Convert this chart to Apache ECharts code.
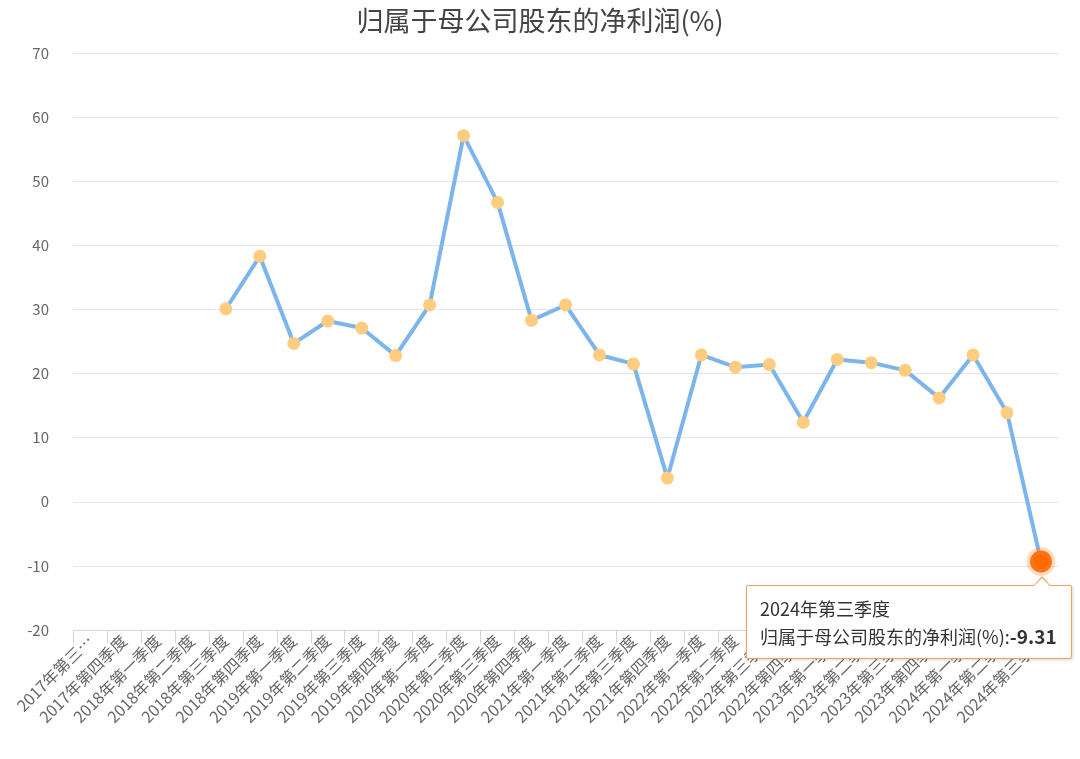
<!DOCTYPE html>
<html>
<head>
<meta charset="utf-8">
<style>
  html, body { margin: 0; padding: 0; background: #fff; }
  #main { width: 1080px; height: 759px; }
  .np-tip::before, .np-tip::after {
    content: ''; position: absolute; width: 0; height: 0;
    border-left: 9px solid transparent; border-right: 9px solid transparent;
    left: 286px;
  }
  .np-tip::before { top: -10px; border-bottom: 10px solid #f5a05a; }
  .np-tip::after { top: -8px; border-bottom: 9px solid #fff; }
</style>
<script src="https://cdn.jsdelivr.net/npm/echarts@6/dist/echarts.min.js"></script>
</head>
<body>
<div id="main"></div>
<script>
// 季度
var quarters = [
  '2017年第三季度', '2017年第四季度',
  '2018年第一季度', '2018年第二季度', '2018年第三季度', '2018年第四季度',
  '2019年第一季度', '2019年第二季度', '2019年第三季度', '2019年第四季度',
  '2020年第一季度', '2020年第二季度', '2020年第三季度', '2020年第四季度',
  '2021年第一季度', '2021年第二季度', '2021年第三季度', '2021年第四季度',
  '2022年第一季度', '2022年第二季度', '2022年第三季度', '2022年第四季度',
  '2023年第一季度', '2023年第二季度', '2023年第三季度', '2023年第四季度',
  '2024年第一季度', '2024年第二季度', '2024年第三季度'
];
var seriesName = '归属于母公司股东的净利润(%)';
var netProfit = [
  null, null, null, null, 30.1, 38.3,
  24.7, 28.2, 27.1, 22.8,
  30.7, 57.1, 46.7, 28.3,
  30.7, 22.9, 21.5, 3.7,
  22.9, 21.0, 21.4, 12.4,
  22.2, 21.7, 20.5, 16.2,
  22.9, 13.9, -9.31
];
var yTicks = { min: -20, max: 70, step: 10 };

var chart = echarts.init(document.getElementById('main'));
var last = netProfit.length - 1;

var option = {
  animation: false,
  title: {
    text: seriesName,
    left: 'center',
    top: 2,
    textStyle: { fontSize: 27, fontWeight: 'normal', color: '#444', fontFamily: 'Noto Sans CJK SC' }
  },
  grid: { left: 73, right: 22, top: 53, bottom: 129, containLabel: false },
  tooltip: {
    trigger: 'item',
    className: 'np-tip',
    backgroundColor: '#fff',
    borderColor: '#f5a05a',
    borderWidth: 1,
    padding: [8, 14, 8, 13],
    extraCssText: 'border-radius:2px;box-shadow:1px 1px 3px rgba(0,0,0,0.15);',
    textStyle: { fontFamily: 'Noto Sans CJK SC', fontSize: 18, color: '#333' },
    position: function (point) {
      return [point[0] - 295, point[1] + 24];
    },
    formatter: function (p) {
      return '<div style="line-height:28px">' + p.name + '<br>' + p.seriesName +
        ':<b style="font-size:19px">' + p.value + '</b></div>';
    }
  },
  xAxis: {
    type: 'category',
    data: quarters,
    boundaryGap: true,
    axisLine: { onZero: false, lineStyle: { color: '#ccd6eb' } },
    axisTick: { show: true, length: 13, lineStyle: { color: '#ccd6eb' } },
    axisLabel: {
      interval: 0,
      rotate: 45,
      fontSize: 16,
      color: '#666',
      margin: 8,
      fontFamily: 'Noto Sans CJK SC',
      // 第一个标签在左侧被截断
      formatter: function (v, i) {
        return i === 0 ? v.slice(0, 7) + '…' : v;
      }
    }
  },
  yAxis: {
    type: 'value',
    min: yTicks.min,
    max: yTicks.max,
    interval: yTicks.step,
    axisLine: { show: false },
    axisTick: { show: false },
    axisLabel: { fontSize: 15, color: '#666', margin: 24, fontFamily: 'Noto Sans CJK SC' },
    splitLine: { lineStyle: { color: '#e6e6e6' } }
  },
  series: [{
    name: seriesName,
    type: 'line',
    data: netProfit.map(function (v, i) {
      if (i !== last) return v;
      return {
        value: v,
        symbolSize: 22,
        itemStyle: { color: '#ff6a00', borderColor: 'rgba(255,140,60,0.3)', borderWidth: 7 }
      };
    }),
    symbol: 'circle',
    symbolSize: 13,
    showAllSymbol: true,
    lineStyle: { color: '#7cb5ec', width: 4 },
    itemStyle: { color: '#ffcc80' },
    emphasis: { disabled: true }
  }]
};

chart.setOption(option);
chart.dispatchAction({ type: 'showTip', seriesIndex: 0, dataIndex: last });
</script>
</body>
</html>
